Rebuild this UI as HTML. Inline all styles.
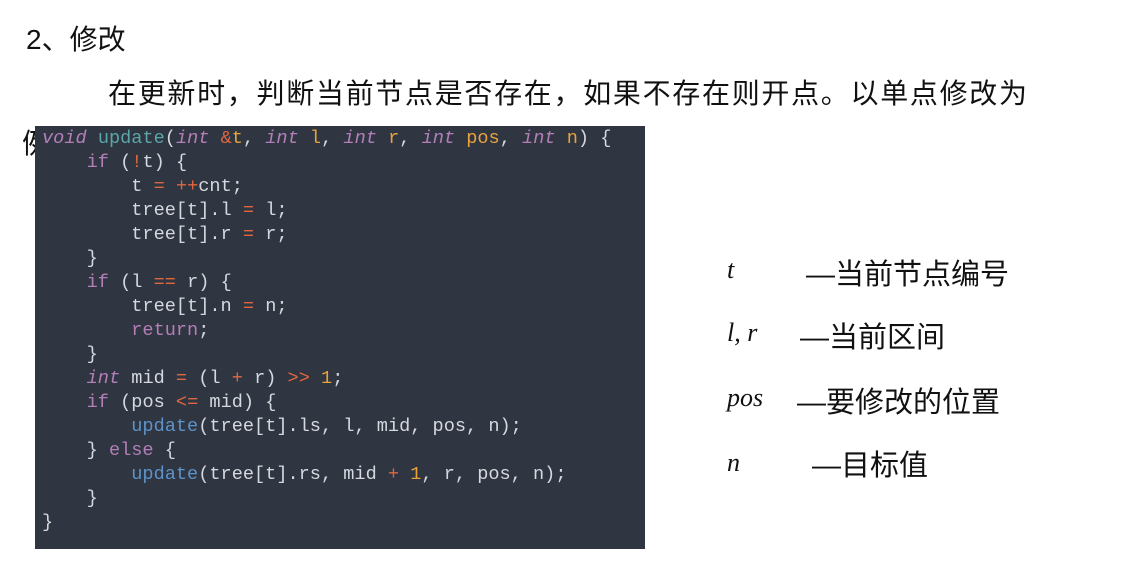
<!DOCTYPE html>
<html><head><meta charset="utf-8"><style>
body{margin:0;width:1125px;height:561px;background:#fff;position:relative;overflow:hidden;font-family:"Liberation Sans","Noto Sans CJK SC",sans-serif;color:#111}
.a{position:absolute;white-space:pre}
.t{font-size:28px;left:26px;top:18px}
.p{font-size:28px;left:108px;top:72px;letter-spacing:1.7px}
.ex{font-size:28px;left:22px;top:122px}
.code{position:absolute;left:35px;top:126px;width:610px;height:423px;background:#2f3541}
pre{position:absolute;left:42px;top:127px;margin:0;font-family:"Liberation Mono","DejaVu Sans Mono",monospace;font-size:18.6px;line-height:24px;color:#d5d8de}
.k{color:#b47eb8}.i{color:#b47eb8;font-style:italic}.f{color:#5aa6a8}.g{color:#5d93c8}.o{color:#e0673f}.n{color:#e8a33d}
.v{font-family:"Liberation Serif",serif;font-style:italic;font-size:26px;left:727px}
.d{font-size:29px}
</style></head><body>
<div class="a t">2、修改</div>
<div class="a p">在更新时，判断当前节点是否存在，如果不存在则开点。以单点修改为</div>
<div class="a ex">例</div>
<div class="code"></div>
<pre><span class="i">void</span> <span class="f">update</span>(<span class="i">int</span> <span class="o">&amp;</span><span class="n">t</span>, <span class="i">int</span> <span class="n">l</span>, <span class="i">int</span> <span class="n">r</span>, <span class="i">int</span> <span class="n">pos</span>, <span class="i">int</span> <span class="n">n</span>) {
    <span class="k">if</span> (<span class="o">!</span>t) {
        t <span class="o">=</span> <span class="o">++</span>cnt;
        tree[t].l <span class="o">=</span> l;
        tree[t].r <span class="o">=</span> r;
    }
    <span class="k">if</span> (l <span class="o">==</span> r) {
        tree[t].n <span class="o">=</span> n;
        <span class="k">return</span>;
    }
    <span class="i">int</span> mid <span class="o">=</span> (l <span class="o">+</span> r) <span class="o">&gt;&gt;</span> <span class="n">1</span>;
    <span class="k">if</span> (pos <span class="o">&lt;=</span> mid) {
        <span class="g">update</span>(tree[t].ls, l, mid, pos, n);
    } <span class="k">else</span> {
        <span class="g">update</span>(tree[t].rs, mid <span class="o">+</span> <span class="n">1</span>, r, pos, n);
    }
}</pre>
<div class="a v" style="top:255px">t</div><div class="a d" style="left:806px;top:251px">—当前节点编号</div>
<div class="a v" style="top:318px">l, r</div><div class="a d" style="left:800px;top:314px">—当前区间</div>
<div class="a v" style="top:383px">pos</div><div class="a d" style="left:797px;top:379px">—要修改的位置</div>
<div class="a v" style="top:448px">n</div><div class="a d" style="left:812px;top:442px">—目标值</div>
</body></html>
